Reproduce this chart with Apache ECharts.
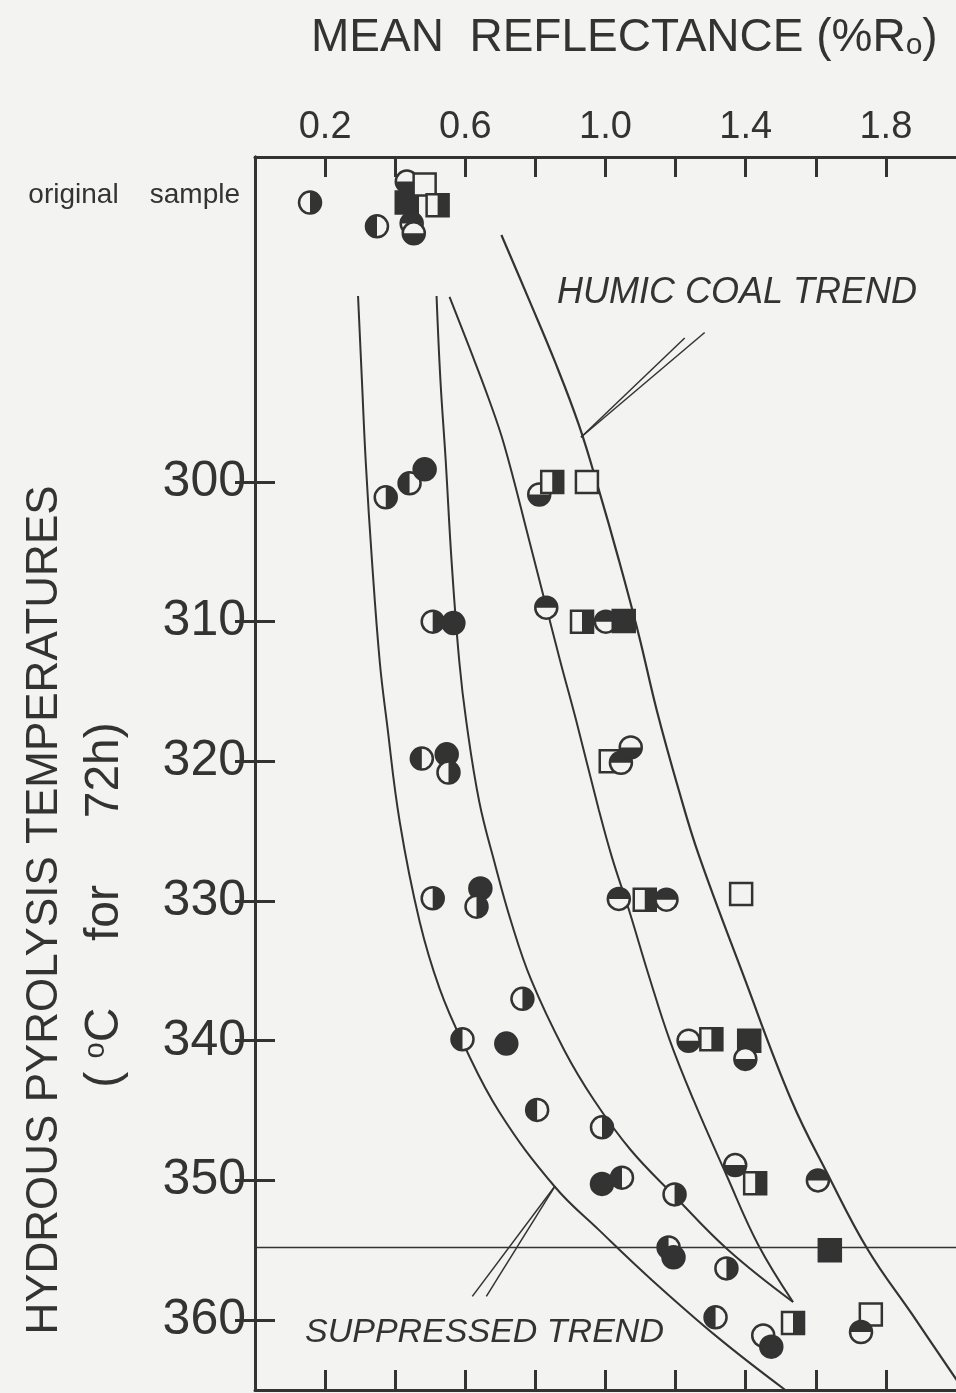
<!DOCTYPE html>
<html>
<head>
<meta charset="utf-8">
<script src="https://cdn.jsdelivr.net/npm/echarts@6/dist/echarts.min.js"></script>
<style>
html, body { margin: 0; padding: 0; background: #f3f3f1; }
#chart { width: 956px; height: 1393px; }
</style>
</head>
<body>
<div id="chart"></div>
<script>
// axis ticks
var xTicks = [0.2, 0.4, 0.6, 0.8, 1.0, 1.2, 1.4, 1.6, 1.8]
var xLabels = [0.2, 0.6, 1.0, 1.4, 1.8]
var yTicks = [300, 310, 320, 330, 340, 350, 360]
var originalRow = 279.5 //original sample row
var yLabels = [originalRow].concat(yTicks)

// [reflectance, temperature, marker]
// R/L/T/B circle half filled right/left/top/bottom, F filled, O open
// S open square, SR square right half filled, SF filled square
var samples = [
	[0.157, 280.0, 'R'], [0.348, 281.7, 'L'], [0.433, 278.5, 'B'], [0.433, 280.0, 'SF'],
	[0.484, 278.7, 'S'], [0.521, 280.2, 'SR'], [0.447, 281.5, 'T'], [0.453, 282.2, 'B'],
	[0.373, 301.1, 'R'], [0.441, 300.1, 'L'], [0.484, 299.1, 'F'], [0.811, 300.9, 'B'],
	[0.848, 300.0, 'SR'], [0.947, 300.0, 'S'],
	[0.507, 310.0, 'R'], [0.566, 310.1, 'F'], [0.831, 309.0, 'T'], [0.933, 310.0, 'SR'],
	[1.001, 310.0, 'T'], [1.052, 309.95, 'SF'],
	[0.476, 319.8, 'L'], [0.547, 319.5, 'F'], [0.552, 320.8, 'R'], [1.015, 320.0, 'S'],
	[1.044, 320.1, 'T'], [1.072, 319.0, 'B'],
	[0.507, 329.8, 'R'], [0.643, 329.1, 'F'], [0.632, 330.4, 'R'], [1.038, 329.85, 'T'],
	[1.112, 329.9, 'SR'], [1.174, 329.9, 'T'], [1.387, 329.5, 'S'],
	[0.763, 337.0, 'R'], [0.592, 339.9, 'L'], [0.717, 340.2, 'F'], [1.237, 340.0, 'B'],
	[1.302, 339.9, 'SR'], [1.410, 340.0, 'SF'], [1.399, 341.3, 'B'],
	[0.805, 344.95, 'L'], [0.990, 346.2, 'R'], [0.990, 350.25, 'F'], [1.047, 349.8, 'L'],
	[1.197, 351.0, 'R'], [1.370, 348.9, 'B'], [1.427, 350.2, 'SR'], [1.606, 350.0, 'T'],
	[1.180, 354.8, 'L'], [1.194, 355.5, 'F'], [1.345, 356.3, 'R'], [1.640, 355.0, 'SF'],
	[1.314, 359.8, 'L'], [1.450, 361.1, 'O'], [1.473, 361.9, 'F'], [1.535, 360.2, 'SR'],
	[1.757, 359.6, 'S'], [1.729, 360.85, 'T']
]

// trend curves
var curveA = [[0.294, 286.69], [0.305, 292.70], [0.316, 298.57], [0.334, 305.73], [0.356, 312.89],
	[0.376, 317.18], [0.413, 324.34], [0.470, 331.50], [0.527, 336.29], [0.592, 340.09],
	[0.697, 345.10], [0.856, 350.47], [0.981, 353.54], [1.132, 357.12], [1.322, 361.27], [1.513, 365.0]]
var curveB = [[0.518, 286.69], [0.529, 292.70], [0.544, 298.43], [0.561, 305.73], [0.583, 312.89],
	[0.603, 317.18], [0.640, 322.91], [0.683, 327.20], [0.731, 331.50], [0.788, 335.65],
	[0.882, 340.66], [0.967, 344.24], [1.072, 347.82], [1.194, 351.04], [1.350, 354.98], [1.535, 358.70]]
var curveC = [[0.555, 286.76], [0.612, 290.41], [0.666, 293.99], [0.711, 297.35], [0.782, 304.15],
	[0.870, 312.74], [0.916, 317.04], [0.981, 323.48], [1.018, 326.84], [1.067, 330.64],
	[1.123, 335.29], [1.183, 339.94], [1.251, 344.24], [1.345, 349.61], [1.436, 354.62], [1.535, 358.70]]
var curveD = [[0.703, 282.32], [0.782, 286.97], [0.856, 291.41], [0.924, 295.92], [0.981, 300.57],
	[1.038, 305.58], [1.095, 310.95], [1.146, 316.32], [1.209, 322.05], [1.266, 326.70],
	[1.393, 335.29], [1.530, 344.24], [1.635, 349.61], [1.749, 354.98], [1.876, 359.63], [2.027, 365.21]]

var humicLeaders = [[[0.930, 296.8], [1.226, 289.7]], [[0.930, 296.8], [1.283, 289.3]]]
var suppressedLeaders = [[[0.856, 350.4], [0.620, 358.3]], [[0.856, 350.4], [0.660, 358.3]]]
var refTemp = 354.8

var ink = '#333333'
var paper = '#f3f3f1'
var font = '"Liberation Sans", Arial, sans-serif'

var halfAngles = {
	R: [-Math.PI / 2, Math.PI / 2],
	L: [Math.PI / 2, Math.PI * 1.5],
	T: [Math.PI, Math.PI * 2],
	B: [0, Math.PI]
}

function renderMark(params, api) {
	var kind = samples[params.dataIndex][2]
	var p = api.coord([api.value(0), api.value(1)])
	var kids = []
	if (kind.charAt(0) === 'S') {
		var s = 22
		kids.push({
			type: 'rect',
			shape: { x: p[0] - s / 2, y: p[1] - s / 2, width: s, height: s },
			style: { fill: kind === 'SF' ? ink : paper, stroke: ink, lineWidth: 2.5 }
		})
		if (kind === 'SR') {
			kids.push({
				type: 'rect',
				shape: { x: p[0], y: p[1] - s / 2, width: s / 2, height: s },
				style: { fill: ink }
			})
		}
	} else {
		var r = 11
		kids.push({
			type: 'circle',
			shape: { cx: p[0], cy: p[1], r: r },
			style: { fill: kind === 'F' ? ink : paper, stroke: ink, lineWidth: 2.5 }
		})
		var a = halfAngles[kind]
		if (a) {
			kids.push({
				type: 'sector',
				shape: { cx: p[0], cy: p[1], r0: 0, r: r, startAngle: a[0], endAngle: a[1] },
				style: { fill: ink }
			})
		}
	}
	return { type: 'group', children: kids }
}

function lineSeries(data, width, curved) {
	return {
		type: 'line',
		data: data,
		smooth: curved ? 0.4 : false,
		symbol: 'none',
		silent: true,
		lineStyle: { color: ink, width: width || 2 },
		z: 2
	}
}

var tickStyle = { show: true, inside: true, length: 20, lineStyle: { color: ink, width: 3 } }
var lineAxis = { show: true, lineStyle: { color: ink, width: 3 } }

var option = {
	backgroundColor: paper,
	animation: false,
	title: {
		text: '{a|MEAN  REFLECTANCE (%R}{b|o}{a|)}',
		left: 306,
		top: 10,
		textStyle: {
			rich: {
				a: { fontFamily: font, fontSize: 46, fontWeight: 'normal', color: ink },
				b: { fontFamily: font, fontSize: 30, fontWeight: 'normal', color: ink, verticalAlign: 'bottom', padding: [16, 0, 0, 0] }
			}
		}
	},
	grid: { left: 255, top: 157, width: 704, height: 1233 },
	xAxis: [
		{
			type: 'value',
			position: 'top',
			min: 0,
			max: 2,
			axisLine: lineAxis,
			axisTick: Object.assign({ customValues: xTicks }, tickStyle),
			axisLabel: {
				customValues: xLabels,
				margin: 10,
				fontFamily: font,
				fontSize: 38,
				color: ink,
				formatter: function (v) { return v.toFixed(1) }
			},
			splitLine: { show: false }
		},
		{
			type: 'value',
			position: 'bottom',
			min: 0,
			max: 2,
			axisLine: lineAxis,
			axisTick: Object.assign({ customValues: xTicks }, tickStyle),
			axisLabel: { show: false },
			splitLine: { show: false }
		}
	],
	yAxis: [
		{
			type: 'value',
			inverse: true,
			min: 276.74,
			max: 365,
			axisLine: lineAxis,
			axisTick: Object.assign({ customValues: yTicks }, tickStyle),
			axisLabel: {
				customValues: yLabels,
				margin: 9,
				fontFamily: font,
				fontSize: 50,
				color: ink,
				formatter: function (v) {
					if (v < 290) return '{s|original    sample}'
					return v
				},
				rich: {
					s: { fontFamily: font, fontSize: 28, color: ink, padding: [0, 6, 0, 0] }
				}
			},
			splitLine: { show: false }
		},
		{
			type: 'value',
			position: 'right',
			inverse: true,
			min: 276.74,
			max: 365,
			axisLine: lineAxis,
			axisTick: Object.assign({ customValues: yTicks }, tickStyle),
			axisLabel: { show: false },
			splitLine: { show: false }
		}
	],
	graphic: [
		{
			type: 'text',
			x: 45,
			y: 910,
			rotation: Math.PI / 2,
			style: {
				text: 'HYDROUS PYROLYSIS TEMPERATURES',
				font: '44px ' + font,
				fill: ink,
				textAlign: 'center',
				textVerticalAlign: 'middle'
			}
		},
		{
			type: 'text',
			x: 105,
			y: 905,
			rotation: Math.PI / 2,
			style: {
				text: '{a|( }{s|o}{a|C     for     72h)}',
				fill: ink,
				textAlign: 'center',
				textVerticalAlign: 'middle',
				rich: {
					a: { fontFamily: font, fontSize: 48, fill: ink },
					s: { fontFamily: font, fontSize: 29, fill: ink, verticalAlign: 'top' }
				}
			}
		},
		{
			type: 'text',
			x: 557,
			y: 293,
			style: {
				text: 'HUMIC COAL TREND',
				font: 'italic 36px ' + font,
				fill: ink,
				textAlign: 'left',
				textVerticalAlign: 'middle'
			}
		},
		{
			type: 'text',
			x: 305,
			y: 1333,
			style: {
				text: 'SUPPRESSED TREND',
				font: 'italic 34px ' + font,
				fill: ink,
				textAlign: 'left',
				textVerticalAlign: 'middle'
			}
		}
	],
	series: [
		lineSeries(curveA, 2, true),
		lineSeries(curveB, 2, true),
		lineSeries(curveC, 2, true),
		lineSeries(curveD, 2.2, true),
		lineSeries([[0, refTemp], [2, refTemp]], 1.5),
		lineSeries(humicLeaders[0], 1.5),
		lineSeries(humicLeaders[1], 1.5),
		lineSeries(suppressedLeaders[0], 1.5),
		lineSeries(suppressedLeaders[1], 1.5),
		{
			type: 'custom',
			renderItem: renderMark,
			data: samples.map(function (d) { return [d[0], d[1]] }),
			encode: { x: 0, y: 1 },
			clip: false,
			z: 5
		}
	]
}

var myChart = echarts.init(document.getElementById('chart'))
myChart.setOption(option)
</script>
</body>
</html>
